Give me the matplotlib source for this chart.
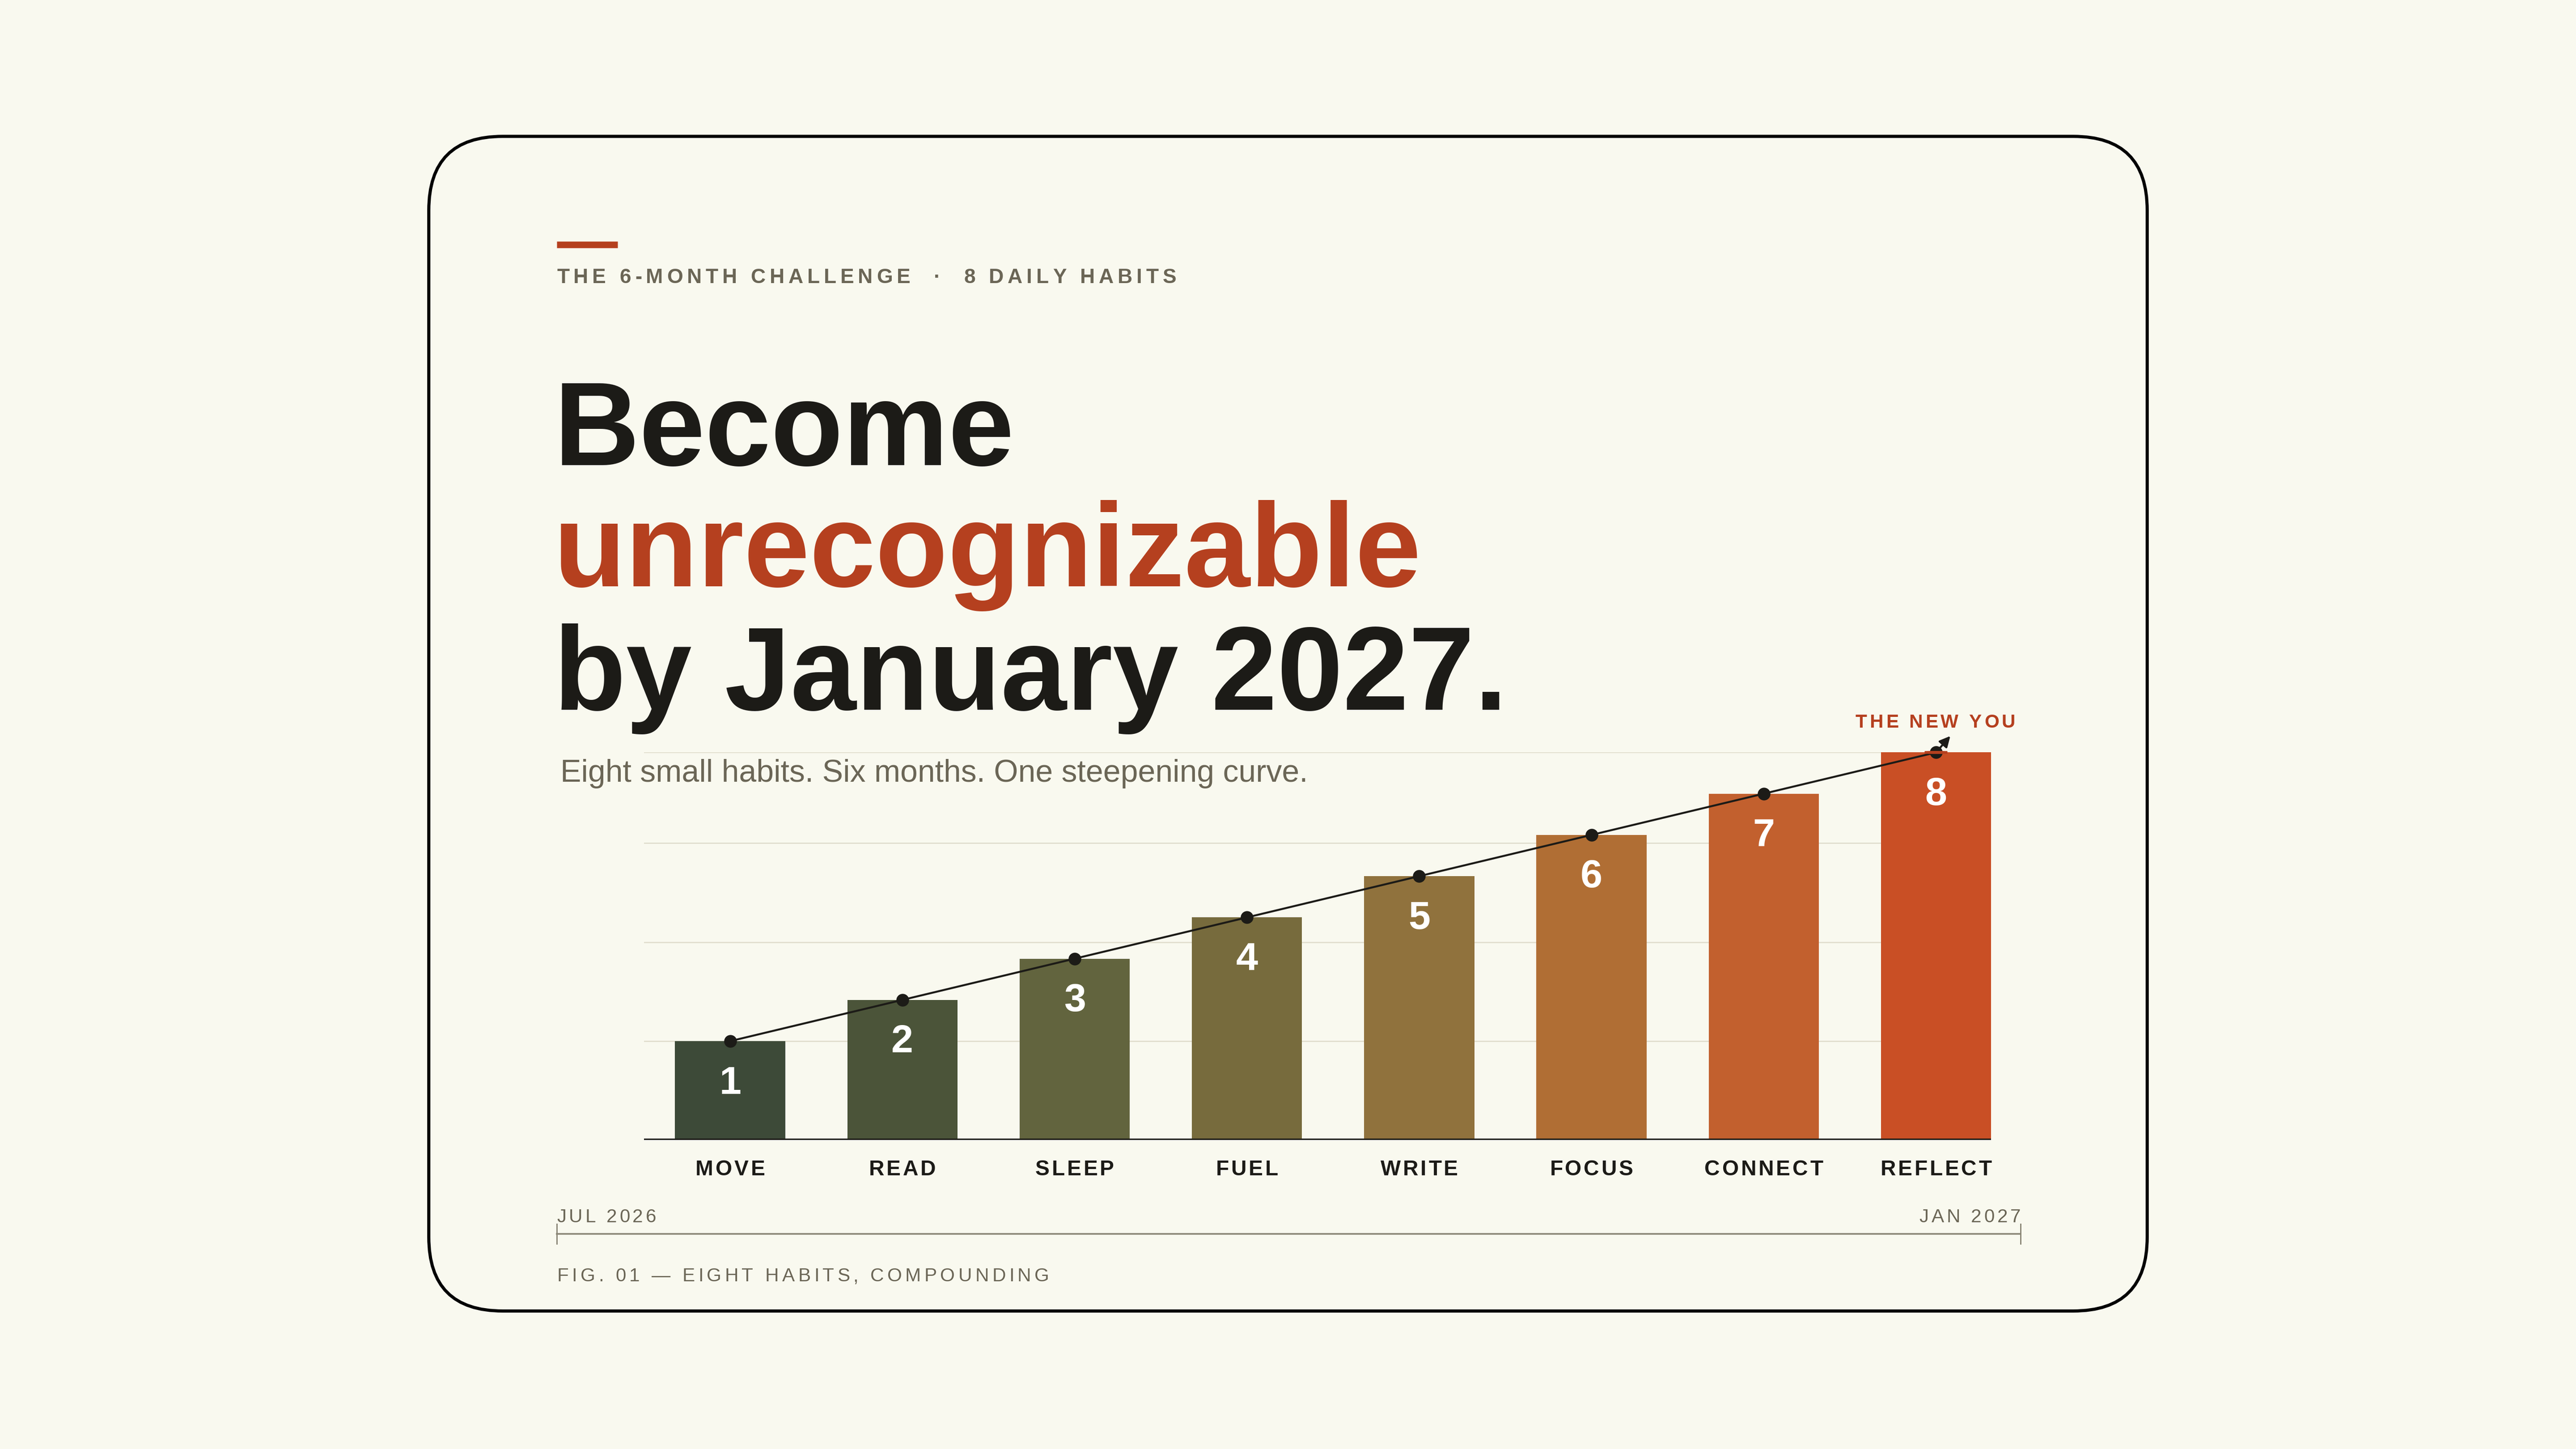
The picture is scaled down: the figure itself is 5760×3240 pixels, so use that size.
import numpy as np
import matplotlib
matplotlib.use("Agg")
import matplotlib.pyplot as plt
from matplotlib.patches import FancyBboxPatch, Circle

plt.rcParams['font.family'] = ['Liberation Sans', 'DejaVu Sans']

habits = ["MOVE", "READ", "SLEEP", "FUEL", "WRITE", "FOCUS", "CONNECT", "REFLECT"]
numbers = [1, 2, 3, 4, 5, 6, 7, 8]
values = [24, 34, 44, 54, 64, 74, 84, 94]
grid_vals = [24, 48, 72, 94]
colors = ["#3d4a38", "#4b5439", "#62643e", "#776b3d", "#90723d", "#b06e34", "#c2602e", "#c94f25"]

BG = "#f9f9ef"
INK = "#1c1b17"
RED = "#b5401f"
GRAY = "#6b6656"
W, H = 1568, 882
PT = 0.735  # ref px -> pt

fig = plt.figure(figsize=(16, 9), dpi=360, facecolor=BG)
base = fig.add_axes([0, 0, 1, 1])
base.set_xlim(0, W)
base.set_ylim(H, 0)
base.axis("off")
renderer = fig.canvas.get_renderer()


def spaced(x, y, s, size, spacing, ha="left", **kw):
    # draw text with letter spacing (in ref px)
    objs, widths = [], []
    for ch in s:
        t = base.text(0, y, ch if ch != " " else "\u00a0", fontsize=size * PT, va="center", ha="left", **kw)
        bb = t.get_window_extent(renderer)
        w = bb.width * W / fig.bbox.width
        if ch == " ":
            w = size * 0.28
        objs.append(t)
        widths.append(w)
    total = sum(widths) + spacing * (len(s) - 1)
    if ha == "center":
        x -= total / 2
    elif ha == "right":
        x -= total
    for t, w in zip(objs, widths):
        t.set_x(x)
        x += w + spacing


# card
base.add_patch(FancyBboxPatch((261, 83), 1046, 715, boxstyle="round,pad=0,rounding_size=45",
                              fc="none", ec="black", lw=1.6 * PT * 1.2))
base.plot([339, 376], [149, 149], color=RED, lw=4 * PT, solid_capstyle="butt")
spaced(339, 169, "THE 6-MONTH CHALLENGE  ·  8 DAILY HABITS", 12.5, 2.4, color=GRAY, fontweight="bold")

for txt, yb, c in [("Become", 283, INK), ("unrecognizable", 357, RED), ("by January 2027.", 432, INK)]:
    base.text(337, yb, txt, fontsize=72 * PT, fontweight="bold", color=c, va="baseline")
base.text(341, 471, "Eight small habits. Six months. One steepening curve.", fontsize=19 * PT,
          color=GRAY, va="center")

# chart
ax = fig.add_axes([392 / W, 1 - 694 / H, (1212 - 392) / W, 236 / H])
ax.set_facecolor("none")
ax.set_xlim(-0.5, 7.32)
ax.set_ylim(0, 94)
for g in grid_vals:
    ax.axhline(g, color="#e2dfcf", lw=0.8 * PT, zorder=0)
x = np.arange(len(habits))
ax.bar(x, values, width=0.64, color=colors, zorder=2)
ax.plot(x, values, color=INK, lw=1.2 * PT, zorder=3, clip_on=False)
ax.scatter(x, values, s=22, color=INK, zorder=4, clip_on=False)
ax.add_patch(Circle((x[-1], values[-1]), 0.065, fc="none", ec=RED, lw=1.5 * PT, zorder=5, clip_on=False,
                    transform=ax.transData))
for xi, v, n in zip(x, values, numbers):
    ax.text(xi, v - 10.3, str(n), ha="center", va="center", color="white", fontsize=24 * PT, fontweight="bold",
            zorder=5)
ax.annotate("", xy=(x[-1] + 0.1, values[-1] + 4.8), xytext=(x[-1], values[-1]),
            arrowprops=dict(arrowstyle="-|>", color=INK, lw=1.2 * PT, mutation_scale=10), annotation_clip=False)
ax.axhline(0, color=INK, lw=2 * PT, zorder=6)
for s in ax.spines.values():
    s.set_visible(False)
ax.set_xticks([])
ax.set_yticks([])

spaced(1178, 440, "THE NEW YOU", 11.5, 1.6, ha="center", color=RED, fontweight="bold")
for xi, name in zip(x, habits):
    cx = 392 + (xi + 0.5) / 7.82 * (1212 - 392)
    spaced(cx, 712, name, 13, 1.3, ha="center", color=INK, fontweight="bold")

# timeline
spaced(339, 741, "JUL 2026", 11.5, 1.6, color=GRAY)
spaced(1230, 741, "JAN 2027", 11.5, 1.6, ha="right", color=GRAY)
base.plot([339, 1230], [751, 751], color="#8a8676", lw=1 * PT)
for xx in (339, 1230):
    base.plot([xx, xx], [745, 757], color="#8a8676", lw=0.8 * PT)
spaced(339, 777, "FIG. 01 — EIGHT HABITS, COMPOUNDING", 11.5, 2.0, color=GRAY)

fig.savefig("out.png", dpi=360, facecolor=BG)
